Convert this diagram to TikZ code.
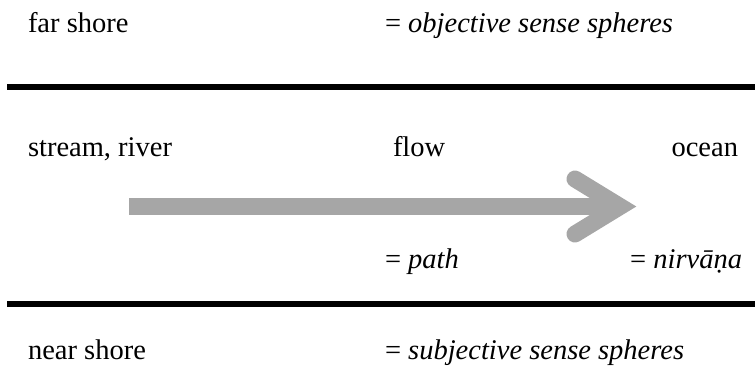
\documentclass[tikz,border=0pt]{standalone}
\usepackage{fontspec}
\setmainfont{Liberation Serif}
\definecolor{arrowgray}{RGB}{166,166,166}
\begin{document}
\begin{tikzpicture}[x=1pt,y=-1pt,
  lbl/.style={inner sep=0pt,outer sep=0pt,font=\fontsize{28.5}{34}\selectfont},
  bank/.style={line width=6pt,black},
  flowshaft/.style={line width=17pt,arrowgray},
  flowhead/.style={line width=17pt,arrowgray,line cap=round,line join=miter}]
\useasboundingbox (0,0) rectangle (755,376);
% texts
\node[lbl,anchor=base west] (far) at (28,32) {far shore};
\node[lbl,anchor=base west] (obj) at (385,32) {= \textit{objective sense spheres}};
\node[lbl,anchor=base west] (stream) at (28,156) {stream, river};
\node[lbl,anchor=base west] (flow) at (393,156) {flow};
\node[lbl,anchor=base east] (ocean) at (738,156) {ocean};
\node[lbl,anchor=base west] (path) at (385,268) {= \textit{path}};
\node[lbl,anchor=base east] (nirv) at (742,268) {= \textit{nirvāṇa}};
\node[lbl,anchor=base west] (near) at (28,359) {near shore};
\node[lbl,anchor=base west] (subj) at (385,359) {= \textit{subjective sense spheres}};
% banks
\coordinate (t1) at (7,87);
\coordinate (t2) at (755,87);
\coordinate (b1) at (7,303.7);
\coordinate (b2) at (755,303.7);
\draw[bank] (t1) -- (t2);
\draw[bank] (b1) -- (b2);
% arrow
\coordinate (s1) at (129,206.5);
\coordinate (s2) at (615,206.5);
\coordinate (h1) at (575,179);
\coordinate (hj) at (620,206.5);
\coordinate (h2) at (575,234);
\draw[flowshaft] (s1) -- (s2);
\draw[flowhead] (h1) -- (hj) -- (h2);
\end{tikzpicture}
\end{document}
